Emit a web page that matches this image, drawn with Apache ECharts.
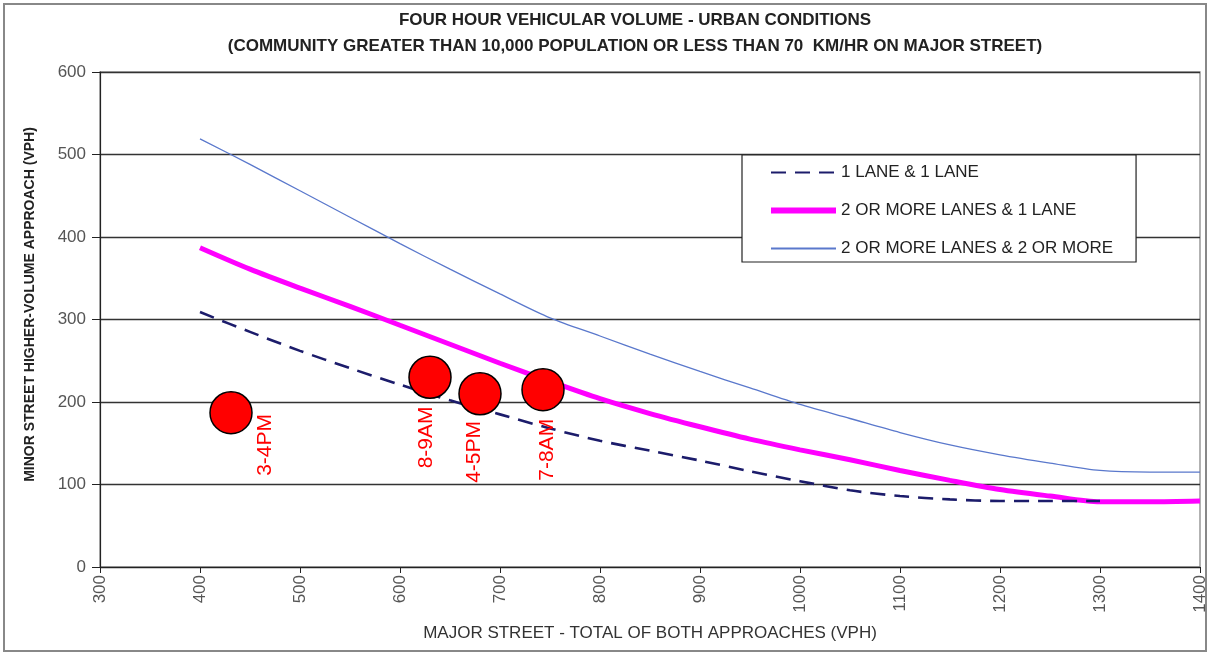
<!DOCTYPE html>
<html>
<head>
<meta charset="utf-8">
<title>Four hour vehicular volume - urban conditions</title>
<script src="https://cdn.jsdelivr.net/npm/echarts@6/dist/echarts.min.js"></script>
<style>
  html, body { margin: 0; padding: 0; background: #fff; }
  #chart { width: 1210px; height: 655px; }
</style>
</head>
<body>
<div id="chart"></div>
<script>
// major street volume (VPH), x values of the curves
const majorVph = [400, 450, 500, 550, 600, 650, 700, 750, 800, 850, 900, 950, 1000,
                  1050, 1100, 1150, 1200, 1250, 1300, 1350, 1400];

// minor street thresholds
const oneLaneOneLane = [309, 285, 262, 241, 221, 202, 185, 168, 153, 141, 129, 116, 104,
                        93, 86, 82, 80, 80, 80];
const twoLanesOneLane = [387, 361, 338, 316, 293, 270, 247, 225, 204, 186, 170, 155, 142,
                         130, 117, 105, 94, 86, 79, 79, 80];
const twoLanesTwoLanes = [519, 488, 456, 424, 392, 361, 331, 302, 280, 258, 237, 217, 197,
                          180, 163, 148, 136, 126, 117, 115, 115];

// observed hourly counts
const obsLabels = ['3-4PM', '8-9AM', '4-5PM', '7-8AM'];
const obsMajor = [431, 630, 680, 743];
const obsMinor = [187, 230, 210, 215];

const seriesNames = ['1 LANE & 1 LANE', '2 OR MORE LANES & 1 LANE', '2 OR MORE LANES & 2 OR MORE'];

const font = "'Liberation Sans', Arial, sans-serif";
// label anchor relative to the top-left of each dot's box
const labelPos = [[56, 23], [18, 51], [16, 49], [26, 51]];

const pair = (xs, ys) => ys.map((v, i) => [xs[i], v]);

const chart = echarts.init(document.getElementById('chart'));
chart.setOption({
  animation: false,
  backgroundColor: '#fff',
  title: {
    text: 'FOUR HOUR VEHICULAR VOLUME - URBAN CONDITIONS\n(COMMUNITY GREATER THAN 10,000 POPULATION OR LESS THAN 70  KM/HR ON MAJOR STREET)',
    left: 630,
    top: 2,
    textAlign: 'center',
    textStyle: {
      fontFamily: font,
      fontWeight: 'bold',
      fontSize: 17,
      lineHeight: 26,
      color: '#222'
    }
  },
  legend: {
    left: 742,
    top: 155,
    orient: 'vertical',
    padding: [9, 23, 5, 26],
    itemGap: 21,
    itemWidth: 65,
    itemHeight: 15,
    backgroundColor: '#fff',
    borderColor: '#222',
    borderWidth: 1.2,
    borderRadius: 0,
    itemStyle: { opacity: 0 },
    textStyle: { fontFamily: font, fontSize: 17, color: '#222' },
    data: [
      { name: seriesNames[0] },
      { name: seriesNames[1], lineStyle: { width: 6 } },
      { name: seriesNames[2] }
    ]
  },
  grid: {
    left: 100,
    right: 10,
    top: 72,
    bottom: 88,
    show: true,
    borderColor: '#999',
    borderWidth: 1.5
  },
  xAxis: {
    type: 'value',
    min: 300,
    max: 1400,
    interval: 100,
    name: 'MAJOR STREET - TOTAL OF BOTH APPROACHES (VPH)',
    nameLocation: 'middle',
    nameGap: 58,
    nameTextStyle: { fontFamily: font, fontSize: 17, color: '#333' },
    axisLine: { lineStyle: { color: '#222', width: 1.2 } },
    axisTick: { show: true, length: 6, lineStyle: { color: '#222' } },
    axisLabel: {
      rotate: 90,
      margin: 8,
      fontFamily: font,
      fontSize: 17,
      color: '#555',
      formatter: v => String(v)
    },
    splitLine: { show: false }
  },
  yAxis: {
    type: 'value',
    min: 0,
    max: 600,
    interval: 100,
    name: 'MINOR STREET HIGHER-VOLUME APPROACH (VPH)',
    nameLocation: 'middle',
    nameGap: 63,
    nameTextStyle: {
      fontFamily: font,
      fontSize: 14,
      fontWeight: 'bold',
      color: '#222',
      padding: [0, 0, 0, 30]
    },
    axisLine: { show: true, lineStyle: { color: '#222', width: 1.2 } },
    axisTick: { show: true, inside: false, length: 8, lineStyle: { color: '#222' } },
    axisLabel: { margin: 14, fontFamily: font, fontSize: 17, color: '#555' },
    splitLine: { lineStyle: { color: '#333', width: 1.3 } }
  },
  graphic: [{
    type: 'rect',
    shape: { x: 4, y: 4, width: 1202, height: 647 },
    style: { fill: 'none', stroke: '#888', lineWidth: 2 },
    silent: true
  }],
  series: [
    {
      name: seriesNames[0],
      type: 'line',
      smooth: 0.3,
      symbol: 'none',
      data: pair(majorVph, oneLaneOneLane),
      lineStyle: { color: '#1c1c6b', width: 2.6, type: [15, 9] },
      itemStyle: { color: '#1c1c6b' },
      z: 3
    },
    {
      name: seriesNames[1],
      type: 'line',
      smooth: 0.3,
      symbol: 'none',
      data: pair(majorVph, twoLanesOneLane),
      lineStyle: { color: '#ff00ff', width: 5 },
      itemStyle: { color: '#ff00ff' },
      z: 2
    },
    {
      name: seriesNames[2],
      type: 'line',
      smooth: 0.3,
      symbol: 'none',
      data: pair(majorVph, twoLanesTwoLanes),
      lineStyle: { color: '#5a78cc', width: 1.3 },
      itemStyle: { color: '#5a78cc' },
      z: 2
    },
    {
      name: 'observed',
      type: 'scatter',
      symbol: 'circle',
      symbolSize: 42,
      z: 5,
      itemStyle: { color: '#ff0000', borderColor: '#000', borderWidth: 1.5, opacity: 1 },
      data: obsMajor.map((x, i) => ({
        value: [x, obsMinor[i]],
        name: obsLabels[i],
        label: { position: labelPos[i] }
      })),
      label: {
        show: true,
        formatter: p => p.name,
        rotate: 90,
        align: 'right',
        verticalAlign: 'middle',
        fontFamily: font,
        fontSize: 21,
        color: '#ff0000'
      }
    }
  ]
});
</script>
</body>
</html>
